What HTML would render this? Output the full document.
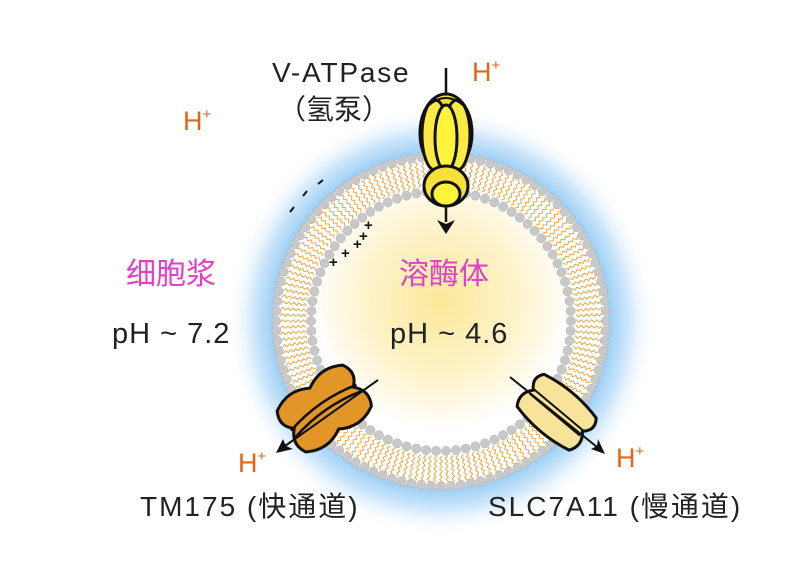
<!DOCTYPE html>
<html><head><meta charset="utf-8"><style>
html,body{margin:0;padding:0;background:#fff;width:799px;height:574px;overflow:hidden}
svg text{font-family:"Liberation Sans","Noto Sans CJK SC",sans-serif}
</style></head><body>
<svg id="s" width="799" height="574" viewBox="0 0 799 574" xmlns="http://www.w3.org/2000/svg">
<defs>
<radialGradient id="halo" cx="441" cy="321" r="215" gradientUnits="userSpaceOnUse">
<stop offset="0.78" stop-color="#9ccff5"/><stop offset="0.87" stop-color="#cde6fa"/><stop offset="1" stop-color="#ffffff" stop-opacity="0"/>
</radialGradient>
<radialGradient id="core" cx="441" cy="300" r="130" gradientUnits="userSpaceOnUse">
<stop offset="0" stop-color="#fbe99a"/><stop offset="0.6" stop-color="#fdf3cc"/><stop offset="1" stop-color="#ffffff"/>
</radialGradient>
</defs>
<circle cx="441" cy="321" r="215" fill="url(#halo)"/>
<circle cx="441" cy="321" r="167" fill="#fff"/>
<circle cx="441" cy="321" r="126" fill="url(#core)"/>
<g id="tails" fill="none" stroke="#f0a030" stroke-width="0.9"></g>
<g id="heads" fill="#c8c8c8" stroke="#b0b0b0" stroke-width="0.5"></g>

<!-- V-ATPase -->
<line x1="446" y1="68" x2="446" y2="222" stroke="#111" stroke-width="2.5"/>
<g stroke="#111" stroke-width="3" fill="#f5e13a">
<ellipse cx="446" cy="133" rx="26" ry="39"/>
<ellipse cx="435" cy="135" rx="13" ry="35" fill="#fbe944"/>
<ellipse cx="457" cy="135" rx="13" ry="35" fill="#fbe944"/>
<ellipse cx="446" cy="138" rx="11" ry="33" fill="#fff23a"/>
<ellipse cx="446" cy="186" rx="22" ry="20"/>
<ellipse cx="446" cy="194" rx="14" ry="12" fill="#fff23a"/>
<path d="M428 106 Q446 90 464 106" fill="none" stroke-width="2"/>
</g>
<path d="M437 220 L446 234 L455 220 L446 224 Z" fill="#111"/>

<!-- TM175 -->
<g transform="translate(326,411) rotate(-35)">
<path d="M-40 -28 Q-20 -40 0 -28 Q20 -40 40 -28 Q48 -14 36 -4 Q48 8 40 22 Q20 34 0 22 Q-20 34 -40 22 Q-48 8 -36 -4 Q-48 -14 -40 -28 Z" fill="#e39628" stroke="#111" stroke-width="3"/>
<path d="M-40 -4 Q0 -14 40 -4 M-40 4 Q0 -6 40 4" fill="none" stroke="#111" stroke-width="2.5"/>
</g>
<line x1="378" y1="380" x2="285" y2="446" stroke="#111" stroke-width="2"/>
<path d="M276 453 L283 439 L286 446 L293 449 Z" fill="#111"/>

<!-- SLC7A11 -->
<g transform="translate(556,413) rotate(40)">
<path d="M-34 -22 Q0 -30 34 -22 Q42 -12 32 -3 Q42 8 34 20 Q0 28 -34 20 Q-42 8 -32 -3 Q-42 -12 -34 -22 Z" fill="#f7e49a" stroke="#111" stroke-width="3"/>
<path d="M-33 -4 L33 -4 M-33 2 L33 2" stroke="#111" stroke-width="2"/>
</g>
<line x1="510" y1="377" x2="597" y2="447" stroke="#111" stroke-width="2"/>
<path d="M605 454 L591 449 L597 446 L598 439 Z" fill="#111"/>

<!-- charges -->
<g stroke="#111" stroke-width="2">
<line x1="318" y1="184" x2="323" y2="180"/><line x1="303" y1="196" x2="307" y2="191"/><line x1="290" y1="212" x2="294" y2="207"/>
</g>
<g font-size="15" font-weight="bold" fill="#111">
<text x="329" y="267">+</text><text x="341" y="258">+</text><text x="353" y="249">+</text><text x="364" y="230">+</text><text x="359" y="241">+</text>
</g>

<text x="272" y="82" font-size="28" letter-spacing="1.8" fill="#222">V-ATPase</text>
<text x="278" y="119" font-size="28" fill="#222">（氢泵）</text>
<g fill="#e0661a" font-size="27"><text x="472" y="81">H<tspan font-size="15" dy="-11">+</tspan></text>
<text x="183" y="130">H<tspan font-size="15" dy="-11">+</tspan></text>
<text x="238" y="472">H<tspan font-size="15" dy="-11">+</tspan></text>
<text x="616" y="467">H<tspan font-size="15" dy="-11">+</tspan></text></g>
<text x="126" y="284" font-size="30" fill="#e040c8">细胞浆</text>
<text x="399" y="284" font-size="30" fill="#e040c8">溶酶体</text>
<text x="112" y="343" font-size="29" letter-spacing="1" fill="#222">pH ~ 7.2</text>
<text x="390" y="343" font-size="29" letter-spacing="1" fill="#222">pH ~ 4.6</text>
<text x="140" y="516" font-size="28" letter-spacing="2" fill="#222">TM175 (快通道)</text>
<text x="488" y="516" font-size="28" letter-spacing="2" fill="#222">SLC7A11 (慢通道)</text>
</svg>
<script>
var NS="http://www.w3.org/2000/svg",cx=441,cy=321;
var H=document.getElementById("heads"),T=document.getElementById("tails");
function ring(r,n){for(var i=0;i<n;i++){var a=i/n*2*Math.PI;var c=document.createElementNS(NS,"circle");c.setAttribute("cx",cx+r*Math.cos(a));c.setAttribute("cy",cy+r*Math.sin(a));c.setAttribute("r",4.6);H.appendChild(c);}}
ring(165,104);ring(130,82);
var n=160;for(var i=0;i<n;i++){var a=i/n*2*Math.PI,ca=Math.cos(a),sa=Math.sin(a),d="";
for(var k=0;k<=10;k++){var r=135+k*2.6,o=(k%2?1.2:-1.2);var x=cx+r*ca-o*sa,y=cy+r*sa+o*ca;d+=(k?"L":"M")+x.toFixed(1)+" "+y.toFixed(1);}
var p=document.createElementNS(NS,"path");p.setAttribute("d",d);T.appendChild(p);}
</script>
</body></html>
